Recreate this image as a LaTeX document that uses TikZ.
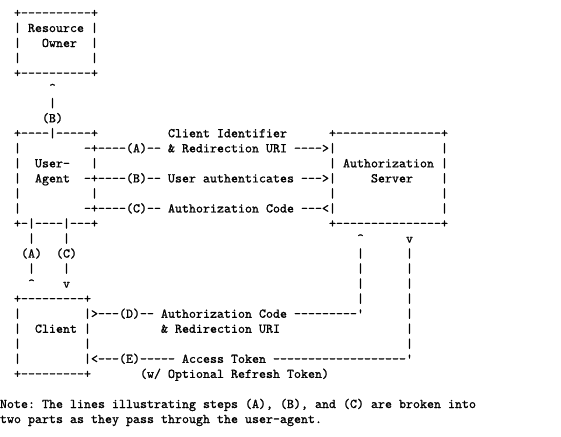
\documentclass[tikz,border=0pt]{standalone}
\usepackage{fontspec}
\newfontfamily\asciifont{lmmono10-regular}[Extension=.otf, FakeBold=0.9]
\usetikzlibrary{positioning}
\tikzset{
  asciitxt/.style={anchor=base west, inner sep=0pt, outer sep=0pt,
    font=\fontsize{13.3333pt}{15pt}\asciifont, text=black}
}
\newcommand\asline[2]{\node[asciitxt, yshift=-16.96pt] (l#1) at (0,{#1-1}) {#2};}
\begin{document}
\begin{tikzpicture}[x=7pt,y=-15.04pt]
\fill[white] (0pt,0pt) rectangle (561pt,-436pt);
\useasboundingbox (0pt,0pt) rectangle (561pt,-436pt);
\asline{1}{~~+----------+}
\asline{2}{~~|~Resource~|}
\asline{3}{~~|~~~Owner~~|}
\asline{4}{~~|~~~~~~~~~~|}
\asline{5}{~~+----------+}
\asline{6}{~~~~~~~\textasciicircum}
\asline{7}{~~~~~~~|}
\asline{8}{~~~~~~(B)}
\asline{9}{~~+----|-----+~~~~~~~~~~Client~Identifier~~~~~~+---------------+}
\asline{10}{~~|~~~~~~~~~-+----(A)--~\&~Redirection~URI~---->|~~~~~~~~~~~~~~~|}
\asline{11}{~~|~~User-~~~|~~~~~~~~~~~~~~~~~~~~~~~~~~~~~~~~~|~Authorization~|}
\asline{12}{~~|~~Agent~~-+----(B)--~User~authenticates~--->|~~~~~Server~~~~|}
\asline{13}{~~|~~~~~~~~~~|~~~~~~~~~~~~~~~~~~~~~~~~~~~~~~~~~|~~~~~~~~~~~~~~~|}
\asline{14}{~~|~~~~~~~~~-+----(C)--~Authorization~Code~---<|~~~~~~~~~~~~~~~|}
\asline{15}{~~+-|----|---+~~~~~~~~~~~~~~~~~~~~~~~~~~~~~~~~~+---------------+}
\asline{16}{~~~~|~~~~|~~~~~~~~~~~~~~~~~~~~~~~~~~~~~~~~~~~~~~~~~\textasciicircum~~~~~~v}
\asline{17}{~~~(A)~~(C)~~~~~~~~~~~~~~~~~~~~~~~~~~~~~~~~~~~~~~~~|~~~~~~|}
\asline{18}{~~~~|~~~~|~~~~~~~~~~~~~~~~~~~~~~~~~~~~~~~~~~~~~~~~~|~~~~~~|}
\asline{19}{~~~~\textasciicircum~~~~v~~~~~~~~~~~~~~~~~~~~~~~~~~~~~~~~~~~~~~~~~|~~~~~~|}
\asline{20}{~~+---------+~~~~~~~~~~~~~~~~~~~~~~~~~~~~~~~~~~~~~~|~~~~~~|}
\asline{21}{~~|~~~~~~~~~|>---(D)--~Authorization~Code~---------'~~~~~~|}
\asline{22}{~~|~~Client~|~~~~~~~~~~\&~Redirection~URI~~~~~~~~~~~~~~~~~~|}
\asline{23}{~~|~~~~~~~~~|~~~~~~~~~~~~~~~~~~~~~~~~~~~~~~~~~~~~~~~~~~~~~|}
\asline{24}{~~|~~~~~~~~~|<---(E)-----~Access~Token~-------------------'}
\asline{25}{~~+---------+~~~~~~~(w/~Optional~Refresh~Token)}
\asline{27}{Note:~The~lines~illustrating~steps~(A),~(B),~and~(C)~are~broken~into}
\asline{28}{two~parts~as~they~pass~through~the~user-agent.}
\end{tikzpicture}
\end{document}
